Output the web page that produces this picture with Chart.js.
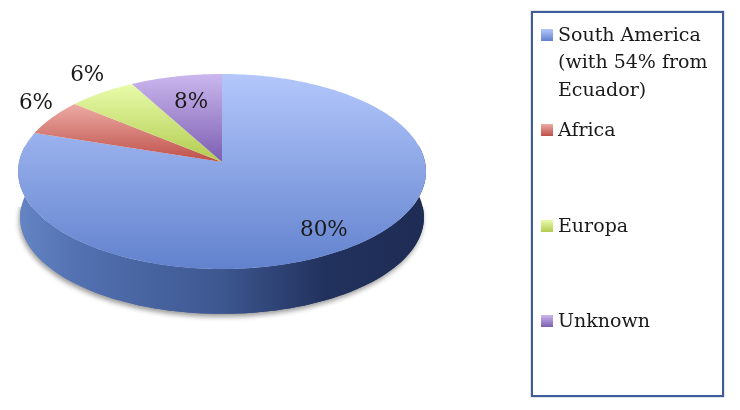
<!DOCTYPE html>
<html>
<head>
<meta charset="utf-8">
<title>Origin by region</title>
<script src="https://cdn.jsdelivr.net/npm/chart.js@4"></script>
<style>
    html, body { margin: 0; background: #fff; }
    #wrap { position: relative; width: 740px; height: 410px; overflow: hidden; filter: blur(0.4px); }
    #wrap canvas { position: absolute; left: 0; top: 0; }
    #legend {
        position: absolute; left: 531px; top: 11px; width: 189px; height: 382px;
        border: 2px solid #3f5c99; box-shadow: 0 0 1px #3f5c99;
        font-family: 'DejaVu Serif', serif; font-size: 19px; line-height: 27.5px; color: #1a1a1a;
    }
    .item { position: absolute; left: 8px; width: 178px; }
    .swatch { position: absolute; left: 0; top: 8px; width: 12px; height: 12px; }
    .name { display: block; margin-left: 17px; width: 165px; }
</style>
</head>
<body>
<div id="wrap">
    <canvas id="chart" width="740" height="410"></canvas>
    <div id="legend"></div>
</div>
<script>
(function () {
    var regions = ['South America (with 54% from Ecuador)', 'Africa', 'Europa', 'Unknown'];
    var shares = [80, 6, 6, 8];

    var lightColors = ['#b3c7fb', '#ecaca3', '#e8fcaa', '#cbb7ee'];
    var darkColors = ['#6282ce', '#bf4f4a', '#b2cb50', '#7c5eb1'];
    var labelRadius = [0.8, 1.1, 1.13, 0.65];
    var labelShift = [2, -10, -9, -2];

    // the disc is a tilted circle, so the far half comes out smaller than the near half
    var tilt = 0.0975;
    var spreadX = 203;
    var spreadY = 96.6;
    var depth = 46;

    function project(el, angle, radius) {
        var u = Math.cos(angle) * radius;
        var v = -Math.sin(angle) * radius;
        var w = 1 + tilt * v;
        return { x: el.x + spreadX * u / w, y: el.y - spreadY * v / w };
    }

    function sidePath(ctx, el) {
        var i, p;
        ctx.beginPath();
        for (i = -10; i <= 190; i += 2) {
            p = project(el, i * Math.PI / 180, 1);
            ctx.lineTo(p.x, p.y);
        }
        for (i = 190; i >= -10; i -= 2) {
            p = project(el, i * Math.PI / 180, 0.99);
            ctx.lineTo(p.x, p.y + depth);
        }
        ctx.closePath();
    }

    function drawSide(ctx, el) {
        var left = el.x - spreadX;
        var right = el.x + spreadX;
        var side = ctx.createLinearGradient(left, 0, right, 0);
        side.addColorStop(0, '#6484c4');
        side.addColorStop(0.15, '#5270b0');
        side.addColorStop(0.5, '#3d5790');
        side.addColorStop(0.75, '#22325e');
        side.addColorStop(1, '#1e2c54');

        // the soft shadow only shows along the bottom rim
        ctx.save();
        ctx.beginPath();
        ctx.rect(0, el.y + 45, 740, 200);
        ctx.clip();
        ctx.shadowColor = 'rgba(0, 0, 0, 0.4)';
        ctx.shadowBlur = 5;
        ctx.shadowOffsetX = -1;
        ctx.shadowOffsetY = 3;
        ctx.fillStyle = side;
        sidePath(ctx, el);
        ctx.fill();
        ctx.restore();

        ctx.fillStyle = side;
        sidePath(ctx, el);
        ctx.fill();
    }

    function drawSlice(ctx, el, index) {
        var steps = Math.ceil((el.endAngle - el.startAngle) * 60);
        var top = el.y;
        var bottom = el.y;
        var i, p;

        ctx.beginPath();
        ctx.moveTo(el.x, el.y);
        for (i = 0; i <= steps; i++) {
            p = project(el, el.startAngle + (el.endAngle - el.startAngle) * i / steps, 1);
            ctx.lineTo(p.x, p.y);
            top = Math.min(top, p.y);
            bottom = Math.max(bottom, p.y);
        }
        ctx.closePath();

        var fill = ctx.createLinearGradient(0, top, 0, bottom);
        fill.addColorStop(0, lightColors[index]);
        fill.addColorStop(1, darkColors[index]);
        ctx.fillStyle = fill;
        ctx.fill();
    }

    var tiltedPie = {
        id: 'tiltedPie',
        beforeDatasetDraw: function (chart, args) {
            var ctx = chart.ctx;
            var arcs = args.meta.data;

            drawSide(ctx, arcs[0]);
            arcs.forEach(function (el, index) {
                drawSlice(ctx, el, index);
            });

            ctx.fillStyle = '#1a1a1a';
            ctx.font = "21.5px 'DejaVu Serif', serif";
            ctx.textAlign = 'center';
            ctx.textBaseline = 'middle';
            arcs.forEach(function (el, index) {
                var mid = (el.startAngle + el.endAngle) / 2;
                var p = project(el, mid, labelRadius[index]);
                ctx.fillText(shares[index] + '%', p.x, p.y + labelShift[index]);
            });
            return false;
        }
    };

    new Chart(document.getElementById('chart'), {
        type: 'pie',
        data: {
            labels: regions,
            datasets: [{ data: shares, backgroundColor: darkColors, borderWidth: 0 }]
        },
        options: {
            responsive: false,
            animation: false,
            // leaves the arc centre where the apex of the disc belongs
            layout: { padding: { right: 296, bottom: 86 } },
            plugins: { legend: { display: false }, tooltip: { enabled: false } }
        },
        plugins: [tiltedPie]
    });

    var legend = document.getElementById('legend');
    regions.forEach(function (region, index) {
        var item = document.createElement('div');
        var swatch = document.createElement('span');
        var name = document.createElement('span');

        item.className = 'item';
        item.style.top = (7.5 + index * 95.5) + 'px';
        swatch.className = 'swatch';
        swatch.style.background = 'linear-gradient(' + lightColors[index] + ', ' + darkColors[index] + ')';
        name.className = 'name';
        name.textContent = region;

        item.appendChild(swatch);
        item.appendChild(name);
        legend.appendChild(item);
    });
}());
</script>
</body>
</html>
